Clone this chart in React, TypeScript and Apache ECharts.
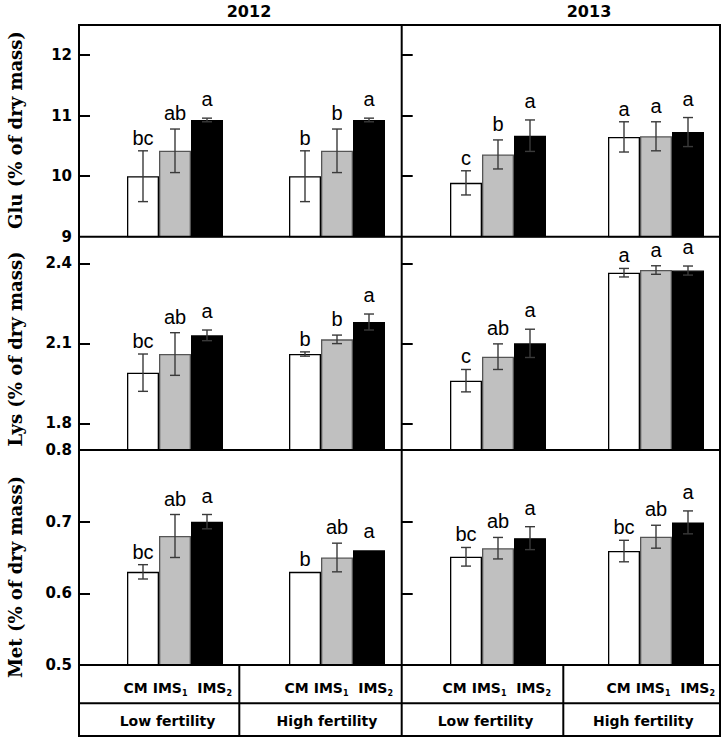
import React, { useEffect, useRef } from 'react';
import * as echarts from 'echarts';

const years = ['2012', '2013'];
const fertility = ['Low fertility', 'High fertility'];
const treatments = ['CM', 'IMS1', 'IMS2'];

// order: Low CM, Low IMS1, Low IMS2, High CM, High IMS1, High IMS2
const glu2012Mean = [10.0, 10.42, 10.93, 10.0, 10.42, 10.93];
const glu2012Err = [0.42, 0.36, 0.03, 0.42, 0.36, 0.03];
const glu2012Sig = ['bc', 'ab', 'a', 'b', 'b', 'a'];
const glu2013Mean = [9.89, 10.36, 10.67, 10.65, 10.66, 10.73];
const glu2013Err = [0.2, 0.24, 0.26, 0.25, 0.24, 0.24];
const glu2013Sig = ['c', 'b', 'a', 'a', 'a', 'a'];

const lys2012Mean = [1.99, 2.06, 2.13, 2.06, 2.115, 2.18];
const lys2012Err = [0.07, 0.08, 0.02, 0.008, 0.016, 0.03];
const lys2012Sig = ['bc', 'ab', 'a', 'b', 'b', 'a'];
const lys2013Mean = [1.96, 2.05, 2.1, 2.365, 2.375, 2.373];
const lys2013Err = [0.042, 0.048, 0.053, 0.016, 0.016, 0.017];
const lys2013Sig = ['c', 'ab', 'a', 'a', 'a', 'a'];

const met2012Mean = [0.63, 0.68, 0.7, 0.63, 0.65, 0.66];
const met2012Err = [0.01, 0.03, 0.01, 0, 0.02, 0];
const met2012Sig = ['bc', 'ab', 'a', 'b', 'ab', 'a'];
const met2013Mean = [0.651, 0.663, 0.677, 0.659, 0.679, 0.699];
const met2013Err = [0.013, 0.015, 0.016, 0.015, 0.016, 0.016];
const met2013Sig = ['bc', 'ab', 'a', 'bc', 'ab', 'a'];

const gluTicks = [10, 11, 12];
const gluLabels = [9, 10, 11, 12];
const lysTicks = [1.8, 2.1, 2.4];
const lysLabels = [1.8, 2.1, 2.4];
const metTicks = [0.6, 0.7];
const metLabels = [0.5, 0.6, 0.7, 0.8];

const rows = [
  { title: 'Glu (% of dry mass)', min: 9, max: 12.5, ticks: gluTicks, labels: gluLabels,
    panels: [[glu2012Mean, glu2012Err, glu2012Sig], [glu2013Mean, glu2013Err, glu2013Sig]] },
  { title: 'Lys (% of dry mass)', min: 1.7, max: 2.5, ticks: lysTicks, labels: lysLabels,
    panels: [[lys2012Mean, lys2012Err, lys2012Sig], [lys2013Mean, lys2013Err, lys2013Sig]] },
  { title: 'Met (% of dry mass)', min: 0.5, max: 0.8, ticks: metTicks, labels: metLabels,
    panels: [[met2012Mean, met2012Err, met2012Sig], [met2013Mean, met2013Err, met2013Sig]] },
];

// layout
const BAR_W = 32;
const X0 = 79, XM = 401.7, X1 = 720;
const rowTop = [25, 236.7, 450];
const rowBottom = [236.7, 450, 665];
const gridLeft = [94, 419];
const gridWidth = [324, 316];
const panelLeft = [X0, XM];
const titleY = [130, 349, 577];
const TABLE_MID = 703.3, TABLE_BOTTOM = 736;
const fillColors = ['#ffffff', '#c0c0c0', '#000000'];
const borderColors = ['#000000', '#555555', '#000000'];

function buildOption() {
  const grid: any[] = [];
  const xAxis: any[] = [];
  const yAxis: any[] = [];
  const series: any[] = [];
  rows.forEach((row, r) => {
    [0, 1].forEach((c) => {
      const gi = r * 2 + c;
      const [mean, err, sig] = row.panels[c] as [number[], number[], string[]];
      grid.push({
        left: gridLeft[c], width: gridWidth[c], top: rowTop[r], height: rowBottom[r] - rowTop[r],
        outerBoundsMode: 'none', containLabel: false,
      });
      xAxis.push({ type: 'category', gridIndex: gi, data: fertility, show: false });
      yAxis.push({
        type: 'value', gridIndex: gi, min: row.min, max: row.max,
        offset: gridLeft[c] - panelLeft[c],
        splitLine: { show: false },
        axisLine: { show: false },
        axisTick: { show: true, inside: true, length: 11, customValues: row.ticks,
          lineStyle: { color: '#000', width: 2 } },
        axisLabel: {
          show: c === 0, customValues: row.labels, margin: 7,
          color: '#000', fontFamily: 'DejaVu Sans', fontWeight: 'bold', fontSize: 15,
          formatter: (v: number) => String(v),
        },
      });
      treatments.forEach((t, ti) => {
        series.push({
          type: 'bar', name: t, xAxisIndex: gi, yAxisIndex: gi,
          barWidth: BAR_W, barGap: '0%',
          data: fertility.map((_, g) => mean[g * 3 + ti]),
          itemStyle: { color: fillColors[ti], borderColor: borderColors[ti], borderWidth: 1.3 },
          z: 2,
        });
      });
      const cdata: number[][] = [];
      fertility.forEach((_, g) => treatments.forEach((__, ti) => {
        cdata.push([g, ti, mean[g * 3 + ti], err[g * 3 + ti]]);
      }));
      series.push({
        type: 'custom', xAxisIndex: gi, yAxisIndex: gi, z: 5,
        encode: { x: 0, y: 2 },
        data: cdata,
        renderItem: (params: any, api: any) => {
          const cat = api.value(0);
          const idx = api.value(1);
          const m = api.value(2);
          const e = api.value(3);
          const top = api.coord([cat, m + e]);
          const bot = api.coord([cat, m - e]);
          const x = top[0] + (idx - 1) * BAR_W;
          const children: any[] = [];
          const ls = { stroke: '#3a3a3a', lineWidth: 1.4 };
          if (e > 0) {
            children.push({ type: 'line', shape: { x1: x, y1: top[1], x2: x, y2: bot[1] }, style: ls });
            children.push({ type: 'line', shape: { x1: x - 5, y1: top[1], x2: x + 5, y2: top[1] }, style: ls });
            children.push({ type: 'line', shape: { x1: x - 5, y1: bot[1], x2: x + 5, y2: bot[1] }, style: ls });
          }
          const labelY = top[1] - (6 + 3 * idx) + 3;
          children.push({
            type: 'text', x, y: labelY,
            style: {
              text: sig[params.dataIndex], fill: '#000',
              fontFamily: 'Liberation Sans', fontSize: 20, fontWeight: 'normal',
              align: 'center', verticalAlign: 'bottom', textAlign: 'center', textVerticalAlign: 'bottom',
            },
          });
          return { type: 'group', children };
        },
      });
    });
  });

  const lineStyle = { stroke: '#000', lineWidth: 2 };
  const ln = (x1: number, y1: number, x2: number, y2: number) => ({
    type: 'line', shape: { x1, y1, x2, y2 }, style: lineStyle, z: 10, silent: true,
  });
  const graphic: any[] = [
    { type: 'rect', shape: { x: X0, y: rowTop[0], width: X1 - X0, height: TABLE_BOTTOM - rowTop[0] },
      style: { fill: 'none', stroke: '#000', lineWidth: 2 }, z: 10, silent: true },
    ln(XM, rowTop[0], XM, TABLE_BOTTOM),
    ln(X0, rowBottom[0], X1, rowBottom[0]),
    ln(X0, rowBottom[1], X1, rowBottom[1]),
    ln(X0, rowBottom[2], X1, rowBottom[2]),
    ln(X0, TABLE_MID, X1, TABLE_MID),
    ln(239.3, rowBottom[2], 239.3, TABLE_BOTTOM),
    ln(563.3, rowBottom[2], 563.3, TABLE_BOTTOM),
  ];
  const yearX = [249, 589];
  years.forEach((y, i) => {
    graphic.push({
      type: 'text', x: yearX[i], y: 11, z: 10,
      style: { text: y, fill: '#000', fontFamily: 'DejaVu Sans', fontWeight: 'bold', fontSize: 16,
        align: 'center', verticalAlign: 'middle', textAlign: 'center', textVerticalAlign: 'middle' },
    });
  });
  rows.forEach((row, r) => {
    graphic.push({
      type: 'text', x: 15, y: titleY[r], rotation: Math.PI / 2, z: 10,
      style: { text: row.title, fill: '#000', fontFamily: 'DejaVu Serif', fontWeight: 'bold', fontSize: 18,
        align: 'center', verticalAlign: 'middle', textAlign: 'center', textVerticalAlign: 'middle' },
    });
  });
  const trtRight = [232, 393, 551, 715];
  const fertCenter = [167.5, 327, 485.5, 643.3];
  const trtText = `{a|${treatments[0]} ${treatments[1].slice(0, 3)}}{s|${treatments[1].slice(3)}}{a|  ${treatments[2].slice(0, 3)}}{s|${treatments[2].slice(3)}}`;
  for (let k = 0; k < 4; k++) {
    graphic.push({
      type: 'text', x: trtRight[k], y: 688, z: 10,
      style: {
        text: trtText, fill: '#000',
        align: 'right', verticalAlign: 'middle', textAlign: 'right', textVerticalAlign: 'middle',
        rich: {
          a: { fontFamily: 'DejaVu Sans', fontWeight: 'bold', fontSize: 14, lineHeight: 18, verticalAlign: 'middle', fill: '#000' },
          s: { fontFamily: 'DejaVu Sans', fontWeight: 'bold', fontSize: 8, lineHeight: 18, verticalAlign: 'bottom', fill: '#000' },
        },
      },
    });
    graphic.push({
      type: 'text', x: fertCenter[k], y: 721, z: 10,
      style: { text: fertility[k % 2], fill: '#000', fontFamily: 'DejaVu Sans', fontWeight: 'bold', fontSize: 14,
        align: 'center', verticalAlign: 'middle', textAlign: 'center', textVerticalAlign: 'middle' },
    });
  }

  return { animation: false, backgroundColor: '#fff', grid, xAxis, yAxis, series, graphic };
}

export default function App() {
  const ref = useRef<HTMLDivElement>(null);
  useEffect(() => {
    if (!ref.current) return;
    const chart = echarts.init(ref.current, null, { renderer: 'svg' });
    chart.setOption(buildOption() as any);
    return () => chart.dispose();
  }, []);
  return <div ref={ref} style={{ position: 'absolute', left: 0, top: 0, width: 725, height: 741 }} />;
}
